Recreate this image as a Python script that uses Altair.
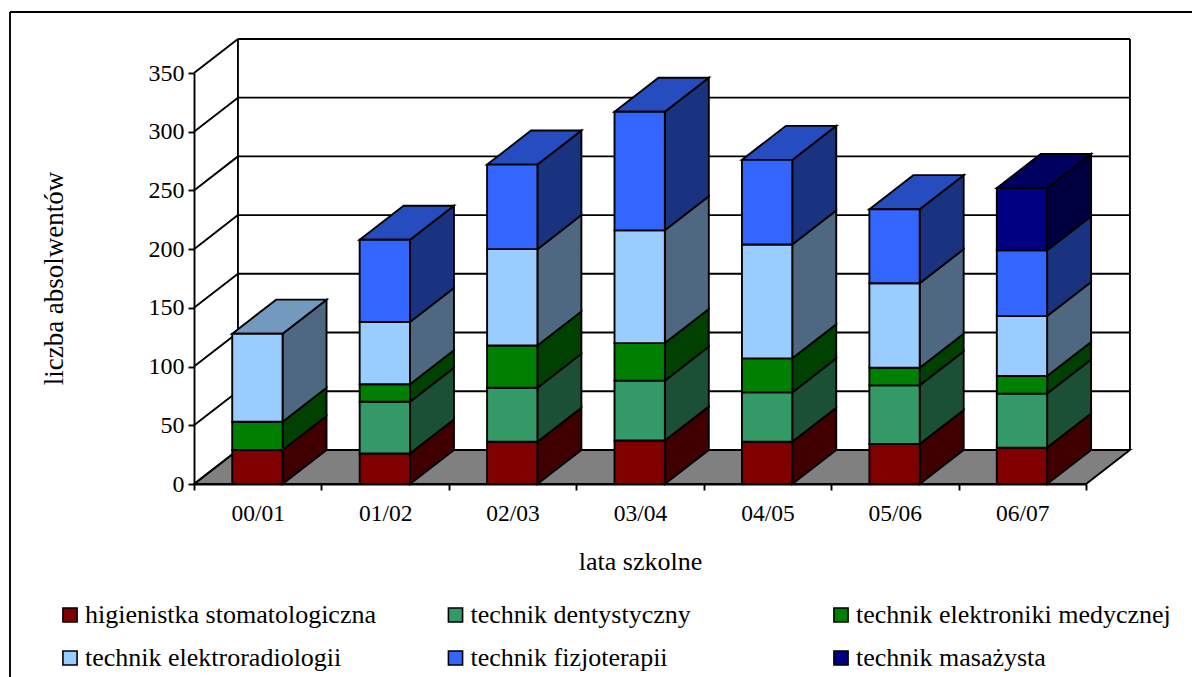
import json
import altair as alt
import pandas as pd

categories = ["00/01", "01/02", "02/03", "03/04", "04/05", "05/06", "06/07"]
series = ["higienistka stomatologiczna", "technik dentystyczny", "technik elektroniki medycznej",
          "technik elektroradiologii", "technik fizjoterapii", "technik masażysta"]
higienistka = [29, 26, 36, 37, 36, 34, 31]
dentystyczny = [0, 44, 46, 51, 42, 50, 46]
elektroniki = [24, 15, 36, 32, 29, 15, 15]
elektroradiologii = [75, 53, 82, 96, 97, 72, 51]
fizjoterapii = [0, 70, 72, 101, 72, 63, 56]
masazysta = [0, 0, 0, 0, 0, 0, 53]
values = [higienistka, dentystyczny, elektroniki, elektroradiologii, fizjoterapii, masazysta]

front = ["#800000", "#339966", "#008000", "#99CCFF", "#3366FF", "#000080"]
side = ["#400000", "#1C5034", "#004000", "#4F6882", "#1A3380", "#000040"]
top = ["#600000", "#267350", "#006000", "#7399BF", "#264DBF", "#000060"]
yticks = [0, 50, 100, 150, 200, 250, 300, 350]

FONT = "Liberation Serif"
W, H = 1184, 669
DX, DY = 0.345, 29          # depth of the 3D box, in data units
BAR0, BAR1 = 0.30, 0.695    # bar edges inside a category slot
xs = alt.Scale(domain=[0, 7], range=[186, 1078], nice=False, zero=False)
ys = alt.Scale(domain=[0, 350], range=[476, 65], nice=False, zero=False)

bars, sides, tops = [], [], []
for i in range(len(categories)):
    base = 0
    last = None
    for s, name in enumerate(series):
        v = values[s][i]
        if v == 0:
            continue
        t = base + v
        l, r = i + BAR0, i + BAR1
        bars.append(dict(series=name, x=l, x2=r, y=base, y2=t))
        key = f"{i}-{s}"
        sides += [dict(id=key, c=side[s], x=r, y=base, y2=t),
                  dict(id=key, c=side[s], x=r + DX, y=base + DY, y2=t + DY)]
        base = t
        last = s
    t = base
    l, r = i + BAR0, i + BAR1
    key = f"t{i}"
    tops += [dict(id=key, c=top[last], x=l, y=t, y2=t),
             dict(id=key, c=top[last], x=l + DX, y=t, y2=t + DY),
             dict(id=key, c=top[last], x=r, y=t, y2=t + DY),
             dict(id=key, c=top[last], x=r + DX, y=t + DY, y2=t + DY)]

floor = pd.DataFrame([dict(x=0, y=0, y2=0), dict(x=DX, y=0, y2=DY),
                      dict(x=7, y=0, y2=DY), dict(x=7 + DX, y=DY, y2=DY)])
walls = []
for v in yticks:
    walls.append(dict(x=0, x2=DX, y=v, y2=v + DY))
    walls.append(dict(x=DX, x2=7 + DX, y=v + DY, y2=v + DY))
walls.append(dict(x=DX, x2=DX, y=DY, y2=350 + DY))
walls.append(dict(x=7 + DX, x2=7 + DX, y=DY, y2=350 + DY))

LW = 1.9
xvals = [k / 2 for k in range(15)]
label_expr = f"datum.value % 1 ? {json.dumps(categories)}[floor(datum.value)] : ''"

x_axis = alt.Axis(values=xvals, labelExpr=label_expr, title="lata szkolne", grid=False,
                  offset=476 - H, tickSize=6, tickWidth=LW, tickColor="black",
                  tickOpacity={"condition": {"test": "datum.value % 1 === 0", "value": 1}, "value": 0},
                  domainColor="black", domainWidth=LW, labelFont=FONT, labelFontSize=23.5,
                  labelColor="black", labelPadding=11, labelOverlap=False, labelFlush=False,
                  labelBound=False, titleFont=FONT, titleFontSize=26, titleFontWeight="normal",
                  titleColor="black", titleX=632, titleY=64, titleAnchor="middle")
y_axis = alt.Axis(values=yticks, title="liczba absolwentów", grid=False, offset=-186,
                  tickSize=6, tickWidth=LW, tickColor="black", domainColor="black",
                  domainWidth=LW, labelFont=FONT, labelFontSize=24, labelColor="black",
                  labelPadding=4, labelOverlap=False, labelFlush=False, labelBound=False,
                  titleFont=FONT, titleFontSize=27, titleFontWeight="normal", titleColor="black",
                  titleX=-126, titleY=270, titleAnchor="middle")

X = lambda: alt.X("x:Q", scale=xs)
Y = lambda: alt.Y("y:Q", scale=ys, stack=False)

floor_l = alt.Chart(floor).mark_area(fill="#808080", stroke="black", strokeWidth=LW, opacity=1).encode(
    x=alt.X("x:Q", scale=xs, axis=x_axis),
    y=alt.Y("y:Q", scale=ys, axis=y_axis, stack=False),
    y2="y2:Q",
)
wall_l = alt.Chart(pd.DataFrame(walls)).mark_rule(color="black", strokeWidth=LW).encode(
    x=X(), x2="x2:Q", y=Y(), y2="y2:Q")
side_l = alt.Chart(pd.DataFrame(sides)).mark_area(stroke="black", strokeWidth=LW, opacity=1).encode(
    x=X(), y=Y(), y2="y2:Q", fill=alt.Fill("c:N", scale=None), detail="id:N")
top_l = alt.Chart(pd.DataFrame(tops)).mark_area(stroke="black", strokeWidth=LW, opacity=1).encode(
    x=X(), y=Y(), y2="y2:Q", fill=alt.Fill("c:N", scale=None), detail="id:N")
bar_l = alt.Chart(pd.DataFrame(bars)).mark_bar(stroke="black", strokeWidth=LW, opacity=1).encode(
    x=X(), x2="x2:Q", y=Y(), y2="y2:Q",
    color=alt.Color("series:N", scale=alt.Scale(domain=series, range=front), sort=series,
                    legend=alt.Legend(title=None, orient="none", legendX=49, legendY=594, columns=3,
                                      direction="horizontal",
                                      gridAlign="all", symbolType="square", symbolSize=200,
                                      symbolStrokeColor="black", symbolStrokeWidth=1.6,
                                      symbolOpacity=1, labelFont=FONT, labelFontSize=26,
                                      labelColor="black", labelLimit=500, labelOffset=2,
                                      columnPadding=42.5, rowPadding=17)),
)
frame_left = alt.Chart().mark_rule(color="black", strokeWidth=LW).encode(
    x=alt.value(2), y=alt.value(4), y2=alt.value(H))
frame_top = alt.Chart().mark_rule(color="black", strokeWidth=LW).encode(
    y=alt.value(4), x=alt.value(2), x2=alt.value(W))

chart = alt.layer(floor_l, wall_l, side_l, top_l, bar_l, frame_left, frame_top).resolve_scale(
    fill="independent"
).properties(
    width=W, height=H, padding=0, autosize=alt.AutoSizeParams(type="none"), background="white"
).configure_view(stroke=None)

chart.save("out.html", embed_options={"renderer": "svg", "actions": False})
